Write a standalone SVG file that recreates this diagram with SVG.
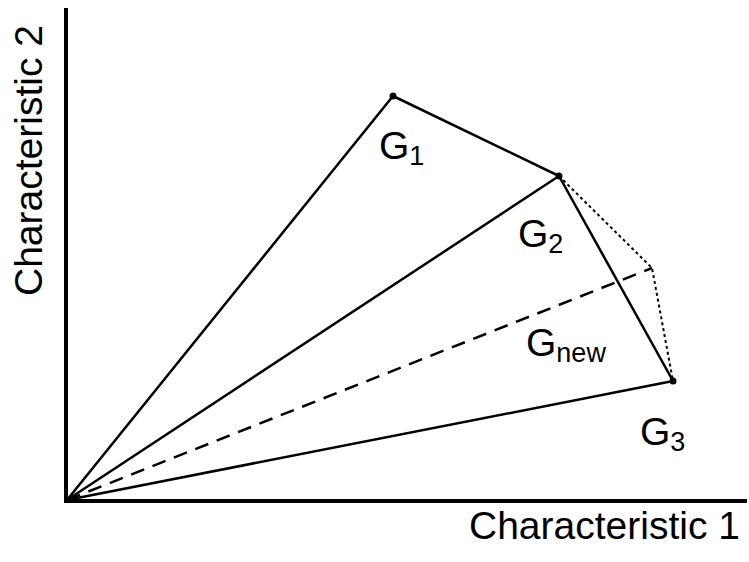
<svg xmlns="http://www.w3.org/2000/svg" width="749" height="562" viewBox="0 0 749 562">
<style>
.ax{stroke:#000;stroke-width:4;fill:none}
.ln{stroke:#000;stroke-width:2.5;fill:none}
.da{stroke:#000;stroke-width:2.5;fill:none;stroke-dasharray:14 9}
.dt{stroke:#000;stroke-width:2;fill:none;stroke-dasharray:3 3}
.t{font-family:"Liberation Sans",Arial,sans-serif;font-size:39px;fill:#000}
.s{font-size:27px}
</style>
<rect width="749" height="562" fill="#fff"/>
<g id="axes">
<line class="ax" x1="66" y1="8" x2="66" y2="502"/>
<line class="ax" x1="64" y1="501" x2="747" y2="501"/>
</g>
<g id="connectors">
<line class="ln" x1="67" y1="500" x2="393" y2="96"/>
<line class="ln" x1="67" y1="500" x2="559" y2="176"/>
<line class="ln" x1="67" y1="500" x2="673" y2="381"/>
<line class="ln" x1="393" y1="96" x2="559" y2="176"/>
<line class="ln" x1="559" y1="176" x2="673" y2="381"/>
<line class="da" x1="67" y1="500" x2="652" y2="268"/>
<polyline class="dt" points="559,176 652,268 673,381"/>
</g>
<g id="G1"><circle cx="393" cy="96" r="3.5"/><text class="t" x="379" y="159">G<tspan class="s" dy="6">1</tspan></text></g>
<g id="G2"><circle cx="559" cy="176" r="3.5"/><text class="t" x="518" y="247">G<tspan class="s" dy="6">2</tspan></text></g>
<g id="Gnew"><text class="t" x="526" y="356">G<tspan class="s" dy="6">new</tspan></text></g>
<g id="G3"><circle cx="673" cy="381" r="3.5"/><text class="t" x="640" y="445">G<tspan class="s" dy="6">3</tspan></text></g>
<g id="labels">
<text class="t" x="469" y="539">Characteristic 1</text>
<text class="t" x="42" y="296" transform="rotate(-90 42 296)">Characteristic 2</text>
</g>
</svg>
